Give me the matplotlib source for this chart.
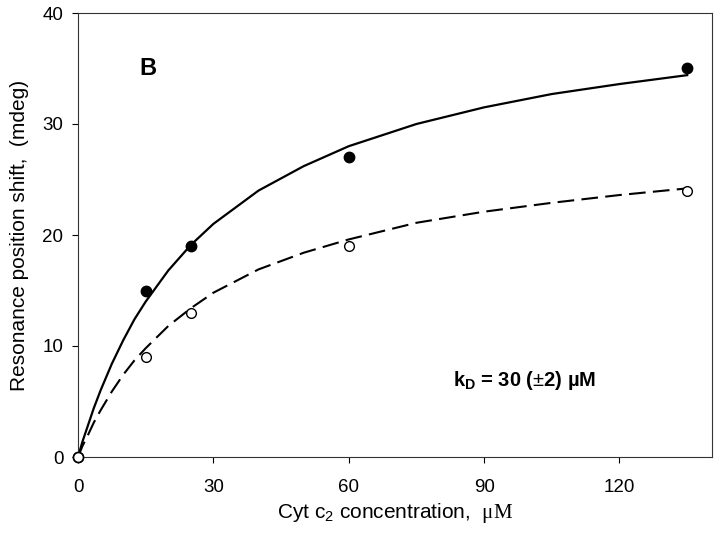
import matplotlib.pyplot as plt

plt.rcParams['font.family'] = ['Liberation Sans', 'DejaVu Sans']
plt.rcParams['mathtext.fontset'] = 'custom'
plt.rcParams['mathtext.rm'] = 'Liberation Serif'
plt.rcParams['mathtext.sf'] = 'Liberation Sans'
plt.rcParams['mathtext.bf'] = 'Liberation Sans:bold'
plt.rcParams['mathtext.it'] = 'Liberation Serif:italic'

# measured points
conc = [0, 15, 25, 60, 135]
shift_filled = [0, 15, 19, 27, 35]
shift_open = [0, 9, 13, 19, 24]

# fitted curves
fit_x = [0, 1, 2, 3.5, 5, 7.5, 10, 12.5, 15, 20, 25, 30, 40, 50, 60, 75, 90, 105, 120, 135]
fit_solid = [0, 1.4, 2.6, 4.4, 6.0, 8.4, 10.5, 12.4, 14.0, 16.8, 19.1, 21.0, 24.0, 26.2, 28.0, 30.0, 31.5, 32.7, 33.6, 34.4]
fit_dashed = [0, 1.0, 1.8, 3.1, 4.2, 5.9, 7.4, 8.7, 9.8, 11.8, 13.4, 14.8, 16.9, 18.4, 19.6, 21.1, 22.1, 22.9, 23.6, 24.2]

fig = plt.figure(figsize=(7.21, 5.36), dpi=100)
ax = fig.add_axes([78/721, 1 - 457/536, 634/721, 444/536])

ax.plot(fit_x, fit_solid, color='black', lw=1.6, zorder=2)
ax.plot(fit_x, fit_dashed, color='black', lw=1.5, ls=(0, (8, 3.5)), zorder=2)
ax.plot(conc, shift_filled, 'o', color='black', ms=7.5, zorder=3, clip_on=False)
ax.plot(conc, shift_open, 'o', mfc='white', mec='black', mew=1.0, ms=7, zorder=4, clip_on=False)

ax.set_xlim(0, 140.5)
ax.set_ylim(0, 40)
ax.set_xticks([0, 30, 60, 90, 120])
ax.set_yticks([0, 10, 20, 30, 40])
ax.tick_params(direction='out', length=4.5, width=0.8, labelsize=13.5)
ax.tick_params(axis='x', pad=11)
ax.tick_params(axis='y', pad=6)
for s in ax.spines.values():
    s.set_linewidth(0.8)
    s.set_color('#333333')

ax.set_xlabel(r'Cyt c$_\mathsf{2}$ concentration,  $\mathrm{μM}$', fontsize=15, labelpad=4)
ax.set_ylabel('Resonance position shift,  (mdeg)', fontsize=15, labelpad=10)

ax.text(13.7, 34.4, 'B', fontsize=17, fontweight='bold')
ax.text(83, 6.4, r'k$_\mathbf{D}$ = 30 ($\mathsf{±}$2) µM', fontsize=14.5, fontweight='bold')

fig.savefig('out.png', dpi=100)
